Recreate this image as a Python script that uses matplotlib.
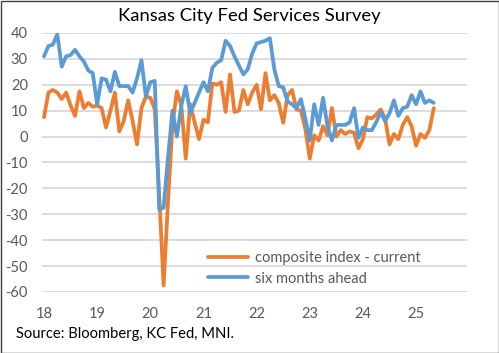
import matplotlib
matplotlib.use("Agg")
import matplotlib.pyplot as plt
from matplotlib.patches import Rectangle

# Monthly data, Jan 2018 .. May 2025
composite_current = [
    7.5, 17, 18, 17, 14.5, 17, 12, 8, 17.5, 11, 13, 11.5,          # 2018
    12, 11, 3.5, 10, 17, 2, 6, 14, 6, -3, 11, 15.5,                # 2019
    15, 10.5, -22, -57.5, -25, 4.5, 17.5, 12, -8.5, 12.5, 5.5, -1, # 2020
    6.5, 5.5, 20.5, 20, 21, 9.5, 24, 9.5, 10, 18, 12.5, 17,        # 2021
    20, 10.5, 24.5, 14, 16, 13, 5.3, 16, 18, 10.5, 10, 3,          # 2022
    -8.5, 0.5, -1.5, 4, 0.5, 11, 0, 2.5, 1, 2, 1.5, -4.5,          # 2023
    -1, 7.5, 7, 8.5, 10.5, 7, -3, 1, -1, 4.5, 7.5, 4,              # 2024
    -3.5, 1, -0.5, 2.5, 11,                                        # 2025
]
six_months_ahead = [
    31, 35, 35.5, 39.5, 27, 31, 31.5, 33.5, 31, 29, 25.5, 24.5,    # 2018
    12.5, 22.5, 22, 17.5, 25, 19.5, 19.5, 19.5, 17, 22.5, 29.5, 15.5,  # 2019
    21, 21.5, -28, -27.5, -8, 10, 0, 12, 19.5, 9, 13, 17,          # 2020
    21, 17.5, 26.5, 28.5, 29.5, 37, 35, 31, 27.5, 24, 26, 32,      # 2021
    36, 36.5, 37, 38, 26, 19.5, 19, 13.5, 12.5, 11, 14.5, 7,       # 2022
    -1.5, 12.5, 4.5, 15, 4, -1.5, 4.5, 4.5, 4.5, 5.5, 11, -0.5,    # 2023
    3.5, 2.5, 2.5, 5.5, 9.5, 6, 9, 14, 8, 11, 11.5, 16,            # 2024
    12.5, 17.5, 13, 14, 13,                                        # 2025
]
year_labels = ["18", "19", "20", "21", "22", "23", "24", "25"]
y_ticks = [40, 30, 20, 10, 0, -10, -20, -30, -40, -50, -60]

title = "Kansas City Fed Services Survey"
series_names = ["composite index - current", "six months ahead"]
source = "Source: Bloomberg, KC Fed, MNI."

plt.rcParams['font.family'] = ['Lato', 'DejaVu Sans']

W, H = 499, 353
fig = plt.figure(figsize=(W / 100, H / 100), dpi=100)
fig.patch.set_facecolor("white")

left_px, right_px, top_px, bot_px = 41.8, 467, 33, 292
ax = fig.add_axes([left_px / W, 1 - bot_px / H, (right_px - left_px) / W, (bot_px - top_px) / H])

months = list(range(len(composite_current)))
ax.plot(months, composite_current, color="#ED7D31", lw=2.7, solid_joinstyle="round",
        solid_capstyle="round", label=series_names[0], zorder=3)
ax.plot(months, six_months_ahead, color="#5B9BD5", lw=2.7, solid_joinstyle="round",
        solid_capstyle="round", label=series_names[1], zorder=4)

ax.set_xlim(-0.5, 95.5)
ax.set_ylim(-60, 40)
ax.set_yticks(y_ticks)
ax.set_yticklabels([str(v) for v in y_ticks])
ax.set_xticks([12 * i for i in range(len(year_labels))])
ax.set_xticklabels(year_labels)
ax.grid(axis="y", color="#D9D9D9", lw=1.3)
ax.set_axisbelow(True)
for s in ax.spines.values():
    s.set_visible(False)
ax.tick_params(axis="both", length=0, labelsize=10.5, colors="#595959")
ax.tick_params(axis="y", pad=10)
ax.tick_params(axis="x", pad=11)

leg = ax.legend(loc="upper left", bbox_to_anchor=(208 / W, 1 - 251 / H),
                bbox_transform=fig.transFigure, frameon=False, fontsize=10.5,
                handlelength=2.75, handletextpad=0.45, labelspacing=0.45,
                borderpad=0, borderaxespad=0)
for t in leg.get_texts():
    t.set_color("#595959")

fig.text(0.5, 1 - 16 / H, title, ha="center", va="center", fontsize=13.3, color="#000000")
fig.text(16 / W, 1 - 334 / H, source, ha="left", va="center", fontsize=10.6, color="#000000")

fig.add_artist(Rectangle((0.5 / W, 0.5 / H), 1 - 1 / W, 1 - 1 / H, transform=fig.transFigure,
                         fill=False, edgecolor="#404040", lw=1.0))

fig.savefig("out.png", dpi=100)
